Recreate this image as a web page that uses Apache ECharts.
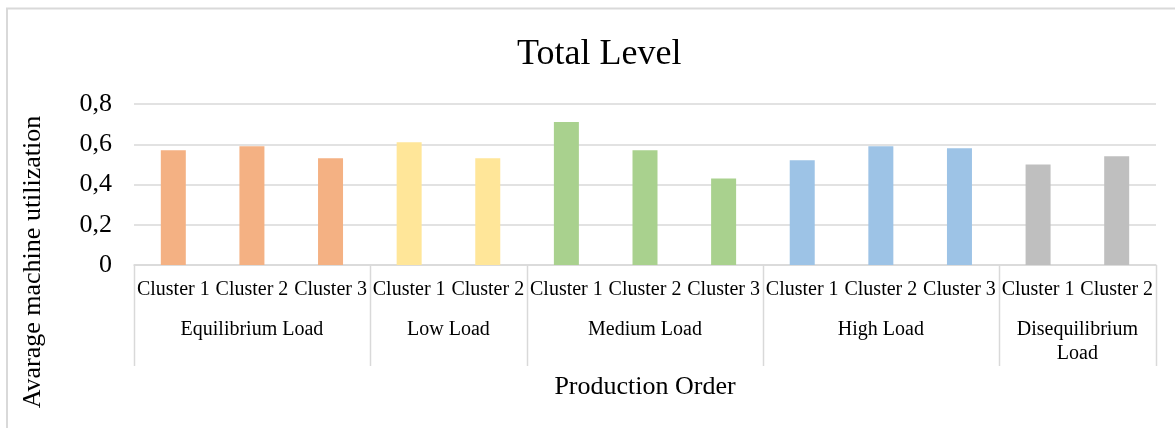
<!DOCTYPE html>
<html>
<head>
<meta charset="utf-8">
<script src="https://cdn.jsdelivr.net/npm/echarts@6/dist/echarts.min.js"></script>
<style>
  html, body { margin: 0; padding: 0; background: #fff; }
  #chart { width: 1175px; height: 428px; }
</style>
</head>
<body>
<div id="chart"></div>
<script>
// Load scenarios (outer axis level) and their clusters (inner axis level)
const groupNames = ['Equilibrium Load', 'Low Load', 'Medium Load', 'High Load', 'Disequilibrium\nLoad'];
const clusterLabels = [
  ['Cluster 1', 'Cluster 2', 'Cluster 3'],
  ['Cluster 1', 'Cluster 2'],
  ['Cluster 1', 'Cluster 2', 'Cluster 3'],
  ['Cluster 1', 'Cluster 2', 'Cluster 3'],
  ['Cluster 1', 'Cluster 2']
];
// Average machine utilization per cluster
const equilibriumLoad = [0.57, 0.59, 0.53];
const lowLoad = [0.61, 0.53];
const mediumLoad = [0.71, 0.57, 0.43];
const highLoad = [0.52, 0.59, 0.58];
const disequilibriumLoad = [0.50, 0.54];
const yTicks = [0, 0.2, 0.4, 0.6, 0.8];

const groupValues = [equilibriumLoad, lowLoad, mediumLoad, highLoad, disequilibriumLoad];
const palette = ['#F4B183', '#FFE699', '#A9D18E', '#9DC3E6', '#BFBFBF'];
const FONT = '"Liberation Serif", "Times New Roman", serif';
const GRID_COLOR = '#D9D9D9';

// Flatten into one category axis; keys stay unique, labels show the cluster only
const categories = [];
const barData = [];
const groupRanges = [];
groupValues.forEach((vals, g) => {
  const start = categories.length;
  vals.forEach((v, i) => {
    categories.push(g + '|' + clusterLabels[g][i]);
    barData.push({ value: v, itemStyle: { color: palette[g] } });
  });
  groupRanges.push([start, categories.length - 1]);
});

const chart = echarts.init(document.getElementById('chart'), null, { renderer: 'canvas' });

chart.setOption({
  backgroundColor: '#fff',
  animation: false,
  textStyle: { fontFamily: FONT },
  title: {
    text: 'Total Level',
    left: 512,
    top: 32,
    textStyle: { fontFamily: FONT, fontSize: 36, fontWeight: 'normal', color: '#000' }
  },
  grid: { left: 134, right: 19, top: 104, bottom: 163, containLabel: false },
  xAxis: {
    type: 'category',
    data: categories,
    axisLine: { show: true, lineStyle: { color: GRID_COLOR, width: 1.5 } },
    axisTick: { show: false },
    axisLabel: {
      interval: 0,
      hideOverlap: false,
      margin: 15,
      fontFamily: FONT,
      fontSize: 20,
      lineHeight: 20,
      color: '#000',
      formatter: (v) => v.split('|')[1]
    },
    splitLine: { show: false }
  },
  yAxis: {
    type: 'value',
    min: yTicks[0],
    max: yTicks[yTicks.length - 1],
    interval: yTicks[1] - yTicks[0],
    axisLine: { show: false },
    axisTick: { show: false },
    axisLabel: {
      margin: 22,
      fontFamily: FONT,
      fontSize: 26,
      color: '#000',
      formatter: (v) => (v === 0 ? '0' : v.toFixed(1).replace('.', ','))
    },
    splitLine: { lineStyle: { color: GRID_COLOR, width: 1.5 } }
  },
  series: [{
    type: 'bar',
    data: barData,
    barWidth: 25,
    silent: true
  }]
});

// Outer axis level: group separators, group names, axis titles and chart border
function buildOverlay() {
  const px = (i) => chart.convertToPixel({ xAxisIndex: 0 }, i);
  const band = px(1) - px(0);
  const y0 = chart.convertToPixel({ yAxisIndex: 0 }, 0);
  const sepLen = 101;
  const elements = [];

  const boundaries = groupRanges.map(r => px(r[0]) - band / 2);
  boundaries.push(px(groupRanges[groupRanges.length - 1][1]) + band / 2);
  boundaries.forEach(x => {
    elements.push({
      type: 'line',
      shape: { x1: Math.round(x) + 0.5, y1: y0, x2: Math.round(x) + 0.5, y2: y0 + sepLen },
      style: { stroke: GRID_COLOR, lineWidth: 1.5 },
      silent: true
    });
  });

  groupRanges.forEach((r, g) => {
    const cx = (px(r[0]) + px(r[1])) / 2;
    elements.push({
      type: 'text',
      x: cx,
      y: y0 + 53,
      style: {
        text: groupNames[g],
        fontFamily: FONT,
        fontSize: 20,
        lineHeight: 24,
        fill: '#000',
        align: 'center',
        verticalAlign: 'top'
      },
      silent: true
    });
  });

  // Axis titles
  elements.push({
    type: 'text',
    x: 645,
    y: 387,
    style: {
      text: 'Production Order',
      fontFamily: FONT,
      fontSize: 26,
      fill: '#000',
      align: 'center',
      verticalAlign: 'middle'
    },
    silent: true
  });
  elements.push({
    type: 'text',
    x: 33,
    y: 262,
    rotation: Math.PI / 2,
    style: {
      text: 'Avarage machine utilization',
      fontFamily: FONT,
      fontSize: 26,
      fill: '#000',
      align: 'center',
      verticalAlign: 'middle'
    },
    silent: true
  });

  // Chart area border
  elements.push({
    type: 'rect',
    shape: { x: 7, y: 8.5, width: 1300, height: 600 },
    style: { fill: 'none', stroke: GRID_COLOR, lineWidth: 2 },
    silent: true
  });

  chart.setOption({ graphic: elements });
}
buildOverlay();
</script>
</body>
</html>
